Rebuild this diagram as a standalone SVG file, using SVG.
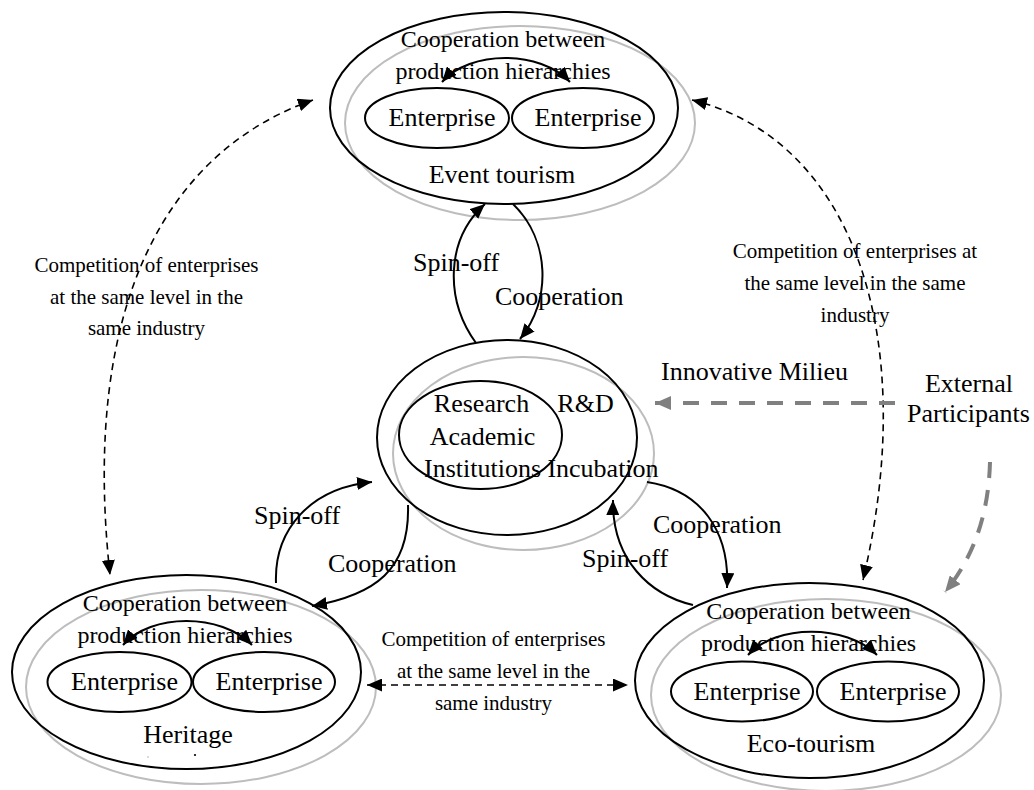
<svg xmlns="http://www.w3.org/2000/svg" width="1034" height="790" viewBox="0 0 1034 790">
<style>
text{font-family:"Liberation Serif","Times New Roman",serif;fill:#000;text-anchor:middle}
.t24{font-size:24px}
.t26{font-size:26px}
.t21{font-size:21px}
.s{text-anchor:start}
.blk{fill:none;stroke:#000;stroke-width:2}
.gry{fill:none;stroke:#bdbdbd;stroke-width:2}
.arc{fill:none;stroke:#000;stroke-width:2}
.dash{fill:none;stroke:#000;stroke-width:1.6;stroke-dasharray:7 5}
.gdash{fill:none;stroke:#808080;stroke-width:4;stroke-dasharray:16 12}
</style>
<defs>
<marker id="ah" markerUnits="userSpaceOnUse" markerWidth="16" markerHeight="13" refX="15" refY="6.5" orient="auto-start-reverse">
<path d="M0,0 L15,6.5 L0,13 z" fill="#000" stroke="none"/>
</marker>
<marker id="gah" markerUnits="userSpaceOnUse" markerWidth="17" markerHeight="14" refX="16" refY="7" orient="auto-start-reverse">
<path d="M0,0 L16,7 L0,14 z" fill="#808080" stroke="none"/>
</marker>
</defs>

<g id="event-tourism">
<ellipse class="gry" cx="520" cy="123" rx="175" ry="97"/>
<ellipse class="blk" cx="504" cy="108" rx="174" ry="96"/>
<ellipse class="blk" cx="437" cy="118" rx="72" ry="30"/>
<ellipse class="blk" cx="583" cy="118" rx="71" ry="30"/>
<path class="arc" d="M442 82 C470 50 540 50 570 82" marker-start="url(#ah)" marker-end="url(#ah)"/>
<text class="t24" x="503" y="47">Cooperation between</text>
<text class="t24" x="503" y="79">production hierarchies</text>
<text class="t26" x="442" y="126">Enterprise</text>
<text class="t26" x="588" y="126">Enterprise</text>
<text class="t26" x="502" y="183">Event tourism</text>
</g>

<g id="heritage">
<ellipse class="gry" cx="201" cy="687" rx="175" ry="97"/>
<ellipse class="blk" cx="186.5" cy="672" rx="174.5" ry="97"/>
<ellipse class="blk" cx="119.5" cy="682" rx="72" ry="30"/>
<ellipse class="blk" cx="264" cy="682" rx="71" ry="30"/>
<path class="arc" d="M123 645 C151 613 221 613 252 645" marker-start="url(#ah)" marker-end="url(#ah)"/>
<text class="t24" x="185" y="611">Cooperation between</text>
<text class="t24" x="185" y="643">production hierarchies</text>
<text class="t26" x="124.5" y="690">Enterprise</text>
<text class="t26" x="269" y="690">Enterprise</text>
<text class="t26" x="188" y="743">Heritage</text>
<circle cx="195" cy="755" r="1.1" fill="#000"/>
<circle cx="148" cy="757" r="0.7" fill="#999"/>
</g>

<g id="eco-tourism">
<ellipse class="gry" cx="826" cy="695" rx="175" ry="96"/>
<ellipse class="blk" cx="809.5" cy="680.5" rx="174.5" ry="97.5"/>
<ellipse class="blk" cx="742" cy="691.5" rx="71" ry="30"/>
<ellipse class="blk" cx="888" cy="691.5" rx="71" ry="30"/>
<path class="arc" d="M748 655 C776 624 846 624 877 655" marker-start="url(#ah)" marker-end="url(#ah)"/>
<text class="t24" x="808.5" y="619">Cooperation between</text>
<text class="t24" x="808.5" y="651">production hierarchies</text>
<text class="t26" x="747" y="699.5">Enterprise</text>
<text class="t26" x="893" y="699.5">Enterprise</text>
<text class="t26" x="811" y="752">Eco-tourism</text>
</g>

<g id="innovative-milieu">
<ellipse class="gry" cx="523.5" cy="453.5" rx="130.5" ry="96.5"/>
<ellipse class="blk" cx="507" cy="437.5" rx="130" ry="97.5"/>
<ellipse class="blk" cx="480.5" cy="435" rx="81.5" ry="54"/>
<text class="t26" x="481.5" y="412">Research</text>
<text class="t26" x="482.5" y="444.5">Academic</text>
<text class="t26" x="482.5" y="477">Institutions</text>
<text class="t26" x="585.5" y="412">R&amp;D</text>
<text class="t26" x="603" y="477">Incubation</text>
<text class="t26 s" x="661" y="380">Innovative Milieu</text>
</g>

<g id="external-participants">
<text class="t26" x="969" y="392">External</text>
<text class="t26" x="968.5" y="422">Participants</text>
</g>

<g id="connectors">
<path class="arc" d="M476 343 C445 300 445 240 485 204" marker-end="url(#ah)"/>
<path class="arc" d="M513 204 C550 240 552 300 520 339" marker-end="url(#ah)"/>
<path class="arc" d="M276 583 C274 530 310 488 372 482" marker-end="url(#ah)"/>
<path class="arc" d="M408 505 C410 570 375 595 312 606" marker-end="url(#ah)"/>
<path class="arc" d="M693 605 C650 595 612 560 613 500" marker-end="url(#ah)"/>
<path class="arc" d="M647 482 C700 490 730 530 727 588" marker-end="url(#ah)"/>
<path class="dash" d="M313 100 C170 150 80 300 110 575" marker-start="url(#ah)" marker-end="url(#ah)"/>
<path class="dash" d="M692 100 C855 140 920 340 863 580" marker-start="url(#ah)" marker-end="url(#ah)"/>
<path class="dash" d="M367 685 L628 685" marker-start="url(#ah)" marker-end="url(#ah)"/>
<path class="gdash" d="M895 403 L655 403" marker-end="url(#gah)"/>
<path class="gdash" d="M990 462 Q988 540 945 592" marker-end="url(#gah)"/>
<text class="t26 s" x="413" y="271">Spin-off</text>
<text class="t26 s" x="495" y="305">Cooperation</text>
<text class="t26 s" x="254" y="524">Spin-off</text>
<text class="t26 s" x="328" y="572">Cooperation</text>
<text class="t26 s" x="653" y="533">Cooperation</text>
<text class="t26 s" x="582" y="567">Spin-off</text>
<text class="t21" x="146.5" y="272">Competition of enterprises</text>
<text class="t21" x="146.5" y="304">at the same level in the</text>
<text class="t21" x="146.5" y="335">same industry</text>
<text class="t21" x="855" y="258">Competition of enterprises at</text>
<text class="t21" x="855" y="290">the same level in the same</text>
<text class="t21" x="855" y="322">industry</text>
<text class="t21" x="493.5" y="646">Competition of enterprises</text>
<text class="t21" x="493.5" y="678">at the same level in the</text>
<text class="t21" x="493.5" y="710">same industry</text>
</g>
</svg>
